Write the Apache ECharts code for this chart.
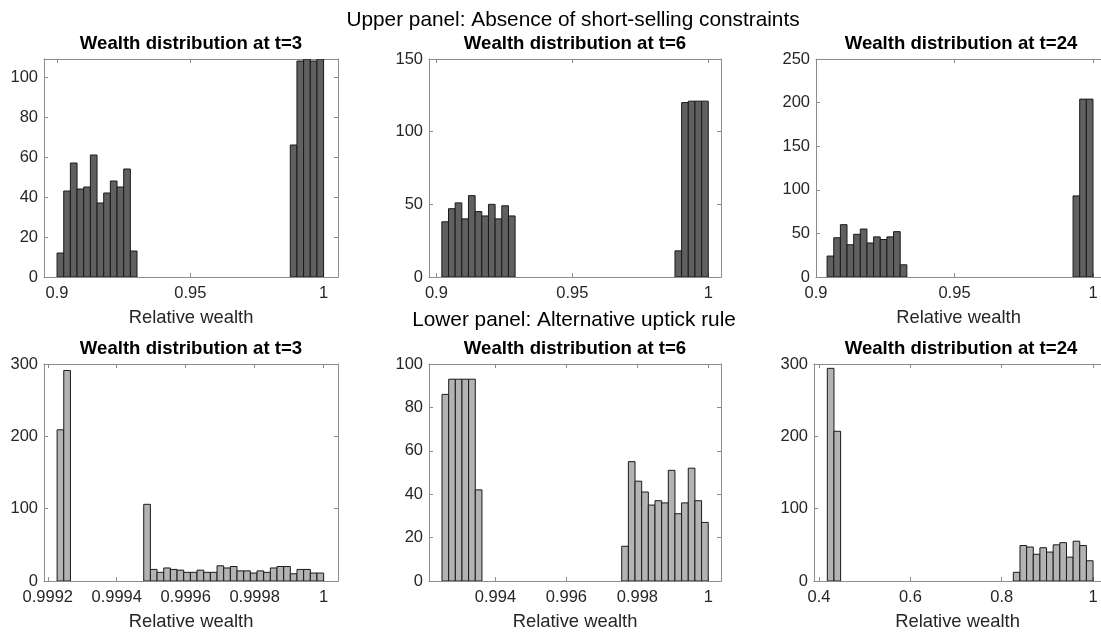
<!DOCTYPE html>
<html>
<head>
<meta charset="utf-8">
<script src="https://cdn.jsdelivr.net/npm/echarts@6/dist/echarts.min.js"></script>
<style>
html,body{margin:0;padding:0;background:#fff;}
#main{width:1101px;height:632px;}
</style>
</head>
<body>
<div id="main"></div>
<script>
// ---------- DATA (histogram counts per bin, 40 bins each) ----------
const panelTitles = ['Wealth distribution at t=3','Wealth distribution at t=6','Wealth distribution at t=24',
                     'Wealth distribution at t=3','Wealth distribution at t=6','Wealth distribution at t=24'];
const upperTitle = 'Upper panel: Absence of short-selling constraints';
const lowerTitle = 'Lower panel: Alternative uptick rule';
const xName = 'Relative wealth';

// bin start and bin width for each panel
const binStart = [0.9, 0.902, 0.904, 0.999227, 0.992494, 0.4182];
const binWidth = [0.0025, 0.00245, 0.0024, 0.00001933, 0.0001876, 0.014545];

const counts1 = [12,43,57,44,45,61,37,42,48,45,54,13,
  0,0,0,0,0, 0,0,0,0,0, 0,0,0,0,0, 0,0,0,0,0, 0,0,0,
  66,108,109,108,109];
const counts2 = [38,47,51,40,56,45,42,50,40,49,42,
  0,0,0,0,0, 0,0,0,0,0, 0,0,0,0,0, 0,0,0,0,0, 0,0,0,0,
  18,120,121,121,121];
const counts3 = [24,45,60,37,49,55,39,46,43,46,52,14,
  0,0,0,0,0, 0,0,0,0,0, 0,0,0,0,0, 0,0,0,0,0, 0,0,0,0,0,
  93,204,204];
const counts4 = [209,291,
  0,0,0,0,0, 0,0,0,0,0, 0,
  106,16,12,18,16,15,12,12,15,12,12,21,18,20,14,14,11,14,12,18,20,20,10,16,16,11,11];
const counts5 = [86,93,93,93,93,42,
  0,0,0,0,0, 0,0,0,0,0, 0,0,0,0,0, 0,0,0,0,0, 0,
  16,55,46,41,35,37,36,51,31,36,52,37,27];
const counts6 = [294,207,
  0,0,0,0,0, 0,0,0,0,0, 0,0,0,0,0, 0,0,0,0,0, 0,0,0,0,0, 0,
  12,49,47,37,46,40,50,53,33,55,49,28];
const allCounts = [counts1, counts2, counts3, counts4, counts5, counts6];

// axis ranges and tick labels
const xMin = [0.8951, 0.89728, 0.9, 0.999189, 0.992127, 0.389];
const xMax = [1.0054, 1.00468, 1.00289, 1.0000418, 1.000358, 1.0174];
const xTicks1 = [0.9, 0.95, 1];
const xTicks2 = [0.9, 0.95, 1];
const xTicks3 = [0.9, 0.95, 1];
const xTicks4 = [0.9992, 0.9994, 0.9996, 0.9998, 1];
const xTicks5 = [0.994, 0.996, 0.998, 1];
const xTicks6 = [0.4, 0.6, 0.8, 1];
const allXTicks = [xTicks1, xTicks2, xTicks3, xTicks4, xTicks5, xTicks6];
const yMax = [109, 150, 250, 300, 100, 300];
const yTicks1 = [0, 20, 40, 60, 80, 100];
const yTicks2 = [0, 50, 100, 150];
const yTicks3 = [0, 50, 100, 150, 200, 250];
const yTicks4 = [0, 100, 200, 300];
const yTicks5 = [0, 20, 40, 60, 80, 100];
const yTicks6 = [0, 100, 200, 300];
const allYTicks = [yTicks1, yTicks2, yTicks3, yTicks4, yTicks5, yTicks6];

// ---------- LAYOUT / STYLE ----------
const grids = [
  {left: 44,  top: 59,  width: 294, height: 218},
  {left: 429, top: 59,  width: 292, height: 218},
  {left: 816, top: 59,  width: 285, height: 218},
  {left: 44,  top: 364, width: 294, height: 219},
  {left: 429, top: 364, width: 292, height: 219},
  {left: 814, top: 364, width: 287, height: 219}
];
const titleX = [191, 575, 961, 191, 575, 961];
const showXName = [true, false, true, true, true, true];   // top-middle label is covered by the lower panel heading
const showRight = [true, true, false, true, true, false];  // right frame of the last column lies outside the picture
const FONT = '"Liberation Sans", Arial, Helvetica, sans-serif';
const AX = '#8c8c8c';
const TXT = '#262626';
const fills = ['#606060','#606060','#606060','#b3b3b3','#b3b3b3','#b3b3b3'];

const xAxes = [], yAxes = [], series = [], graphics = [];
for (let i = 0; i < 6; i++) {
  const common = {
    type: 'value', gridIndex: i, splitLine: {show: false},
    axisLine: {show: true, onZero: false, lineStyle: {color: AX, width: 1}},
  };
  const tick = (vals) => ({show: true, inside: true, length: 4, customValues: vals, lineStyle: {color: AX}});
  xAxes.push(Object.assign({}, common, {
    position: 'bottom', min: xMin[i], max: xMax[i],
    name: showXName[i] ? xName : '', nameLocation: 'middle', nameGap: 32,
    nameTextStyle: {fontFamily: FONT, fontSize: 18.4, color: TXT},
    axisTick: tick(allXTicks[i]),
    axisLabel: {show: true, customValues: allXTicks[i], margin: 8, fontFamily: FONT, fontSize: 16.5, color: TXT,
      formatter: v => String(v)}
  }));
  xAxes.push(Object.assign({}, common, {
    position: 'top', min: xMin[i], max: xMax[i],
    axisTick: tick(allXTicks[i]),
    axisLabel: {show: false}
  }));
  yAxes.push(Object.assign({}, common, {
    position: 'left', min: 0, max: yMax[i],
    axisTick: tick(allYTicks[i]),
    axisLabel: {show: true, customValues: allYTicks[i], margin: 6, fontFamily: FONT, fontSize: 16.5, color: TXT}
  }));
  yAxes.push(Object.assign({}, common, {
    position: 'right', min: 0, max: yMax[i], show: showRight[i],
    axisTick: tick(allYTicks[i]),
    axisLabel: {show: false}
  }));

  const data = allCounts[i].map((c, k) => [binStart[i] + k * binWidth[i], binStart[i] + (k + 1) * binWidth[i], c]);
  const fill = fills[i];
  series.push({
    type: 'custom', xAxisIndex: 2 * i, yAxisIndex: 2 * i, clip: true,
    encode: {x: [0, 1], y: 2},
    data: data,
    renderItem: function (params, api) {
      const c = api.value(2);
      if (!c) return null;
      const p0 = api.coord([api.value(0), 0]);
      const p1 = api.coord([api.value(1), c]);
      return {
        type: 'rect',
        shape: {x: p0[0], y: p1[1], width: p1[0] - p0[0], height: p0[1] - p1[1]},
        style: {fill: fill, stroke: '#1a1a1a', lineWidth: 1}
      };
    }
  });

  graphics.push({
    type: 'text', x: titleX[i], y: i < 3 ? 43.5 : 349,
    style: {text: panelTitles[i], font: 'bold 18.6px ' + FONT, fill: '#000',
      align: 'center', verticalAlign: 'middle', textAlign: 'center', textVerticalAlign: 'middle'}
  });
}
graphics.push({
  type: 'text', x: 573, y: 20,
  style: {text: upperTitle, font: '20.8px ' + FONT, fill: '#000',
    align: 'center', verticalAlign: 'middle', textAlign: 'center', textVerticalAlign: 'middle'}
});
graphics.push({
  type: 'text', x: 574, y: 320.5,
  style: {text: lowerTitle, font: '20.8px ' + FONT, fill: '#000',
    align: 'center', verticalAlign: 'middle', textAlign: 'center', textVerticalAlign: 'middle'}
});

const chart = echarts.init(document.getElementById('main'), null, {renderer: 'canvas'});
chart.setOption({
  backgroundColor: '#fff',
  animation: false,
  grid: grids.map(g => Object.assign({show: false, containLabel: false}, g)),
  xAxis: xAxes,
  yAxis: yAxes,
  series: series,
  graphic: graphics
});
</script>
</body>
</html>
